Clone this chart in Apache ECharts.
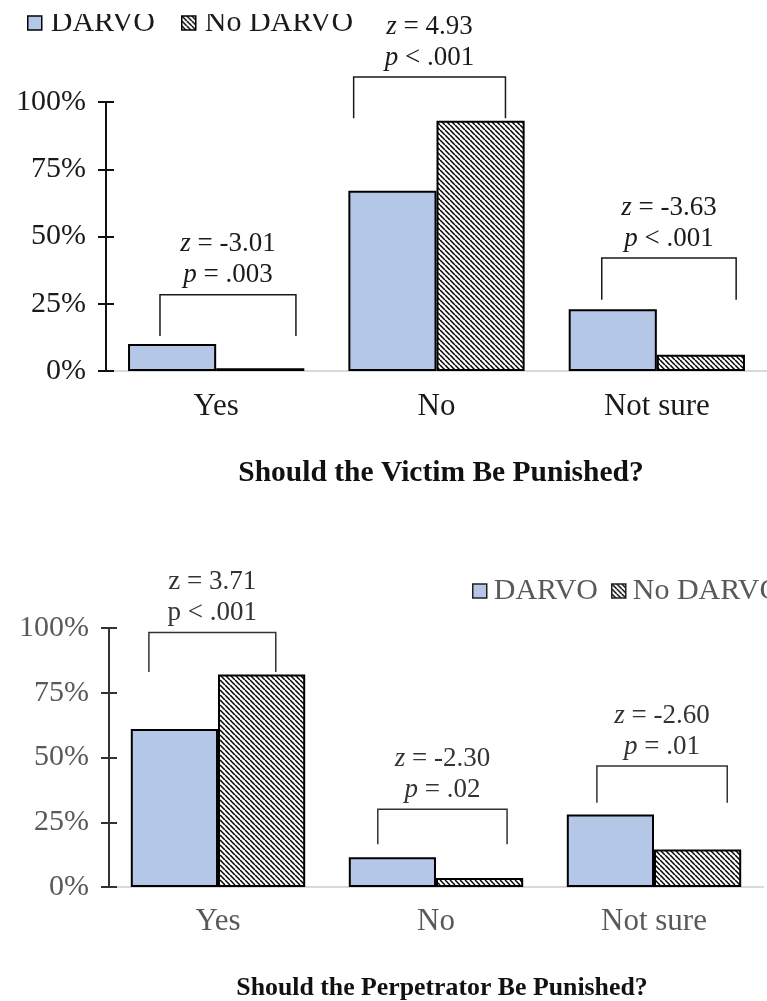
<!DOCTYPE html>
<html>
<head>
<meta charset="utf-8">
<script src="https://cdn.jsdelivr.net/npm/echarts@6/dist/echarts.min.js"></script>
<style>
  html, body { margin: 0; padding: 0; background: #fff; }
  #chart { width: 767px; height: 1001px; }
</style>
</head>
<body>
<div id="chart"></div>
<script>
// ---- data ----
const categories = ['Yes', 'No', 'Not sure'];
const seriesNames = ['DARVO', 'No DARVO'];
const yTickValues = [0, 25, 50, 75, 100];

// Should the Victim Be Punished? (% of respondents)
const victimDarvo = [10, 67, 23];
const victimNoDarvo = [1, 93, 6];
// significance brackets: bracket top level and leg foot level (%)
const victimBracketTop = [28.3, 109.3, 42];
const victimBracketFoot = [13, 94, 26.5];
const victimZ = ['-3.01', '4.93', '-3.63'];
const victimP = ['= .003', '< .001', '< .001'];

// Should the Perpetrator Be Punished? (% of respondents)
const perpDarvo = [61, 11.5, 28];
const perpNoDarvo = [82, 3.5, 14.5];
const perpBracketTop = [98.3, 30, 46.7];
const perpBracketFoot = [83, 16.5, 32.5];
const perpZ = ['3.71', '-2.30', '-2.60'];
const perpP = ['< .001', '= .02', '= .01'];
const perpItalic = [false, true, true];

// ---- styling ----
const FONT = '"Liberation Serif", "Times New Roman", serif';
const BLUE = '#B4C7E7';
const DARK = '#1a1a1a';
const GREY = '#595959';

// diagonal hatch fill for the "No DARVO" bars
function hatchPattern() {
  const s = 5;
  const c = document.createElement('canvas');
  c.width = s; c.height = s;
  const g = c.getContext('2d');
  g.fillStyle = '#fff';
  g.fillRect(0, 0, s, s);
  g.strokeStyle = '#000';
  g.lineWidth = 1.5;
  for (const x0 of [-s, 0, s]) {
    g.beginPath();
    g.moveTo(x0, 0);
    g.lineTo(x0 + s, s);
    g.stroke();
  }
  return { image: c, repeat: 'repeat' };
}
const HATCH = hatchPattern();

// bracket leg positions inside each category band (fraction of band width)
const victimSpans = [[-0.255, 0.362], [-0.376, 0.313], [-0.25, 0.36]];
const perpSpans = [[-0.317, 0.265], [-0.267, 0.326], [-0.262, 0.336]];

function statText(z, p, italic) {
  if (italic) return '{i|z} = ' + z + '\n{i|p} ' + p;
  return 'z = ' + z + '\np ' + p;
}

function bracketSeries(gridIdx, tops, feet, spans, zs, ps, italics, color) {
  return {
    type: 'custom',
    xAxisIndex: gridIdx,
    yAxisIndex: gridIdx * 2,
    clip: false,
    silent: true,
    z: 5,
    data: tops.map((t, i) => [i, t, feet[i]]),
    encode: { x: 0, y: 1 },
    renderItem(params, api) {
      const i = api.value(0);
      const top = api.coord([i, api.value(1)]);
      const foot = api.coord([i, api.value(2)]);
      const band = api.size([1, 0])[0];
      const xl = top[0] + spans[i][0] * band;
      const xr = top[0] + spans[i][1] * band;
      return {
        type: 'group',
        children: [
          {
            type: 'polyline',
            shape: { points: [[xl, foot[1]], [xl, top[1]], [xr, top[1]], [xr, foot[1]]] },
            style: { stroke: color, lineWidth: 1.5, fill: null }
          },
          {
            type: 'text',
            x: (xl + xr) / 2,
            y: top[1] - 4,
            style: {
              text: statText(zs[i], ps[i], italics[i]),
              rich: { i: { fontStyle: 'italic', fontFamily: FONT, fontSize: 27, fill: color } },
              fontFamily: FONT,
              fontSize: 27,
              lineHeight: 31,
              fill: color,
              align: 'center',
              verticalAlign: 'bottom'
            }
          }
        ]
      };
    }
  };
}

function xAxisFor(gridIdx, color, margin) {
  return {
    type: 'category',
    gridIndex: gridIdx,
    data: categories,
    axisLine: { show: true, lineStyle: { color: '#d9d9d9', width: 2 } },
    axisTick: { show: false },
    axisLabel: { fontFamily: FONT, fontSize: 31, color: color, margin: margin }
  };
}

function yAxesFor(gridIdx, color, lineColor) {
  const base = {
    type: 'value',
    gridIndex: gridIdx,
    position: 'left',
    min: yTickValues[0],
    max: yTickValues[yTickValues.length - 1],
    interval: 25,
    splitLine: { show: false }
  };
  return [
    Object.assign({}, base, {
      axisLine: { show: true, lineStyle: { color: lineColor, width: 2 } },
      axisTick: { show: true, length: 8, lineStyle: { color: lineColor, width: 2 } },
      axisLabel: { fontFamily: FONT, fontSize: 30, color: color, margin: 20, formatter: '{value}%' }
    }),
    // inner half of the cross-shaped ticks
    Object.assign({}, base, {
      axisLine: { show: false },
      axisTick: { show: true, inside: true, length: 8, lineStyle: { color: lineColor, width: 2 } },
      axisLabel: { show: false }
    })
  ];
}

function barSeries(gridIdx, darvo, noDarvo) {
  const common = {
    type: 'bar',
    xAxisIndex: gridIdx,
    yAxisIndex: gridIdx * 2,
    barGap: '0%',
    barCategoryGap: '20%',
    z: 3
  };
  return [
    Object.assign({}, common, {
      name: seriesNames[0],
      data: darvo,
      itemStyle: { color: BLUE, borderColor: '#000', borderWidth: 2 }
    }),
    Object.assign({}, common, {
      name: seriesNames[1],
      data: noDarvo,
      itemStyle: { color: HATCH, borderColor: '#000', borderWidth: 2 }
    })
  ];
}

const chart = echarts.init(document.getElementById('chart'), null, { renderer: 'canvas' });

chart.setOption({
  backgroundColor: '#fff',
  animation: false,
  grid: [
    { left: 106, top: 102, width: 670.5, height: 269 },
    { left: 109, top: 628, width: 654, height: 259 }
  ],
  legend: [
    {
      data: seriesNames, left: 22, top: 3, width: 500, orient: 'horizontal', icon: 'rect',
      itemWidth: 14, itemHeight: 14, itemGap: 26,
      itemStyle: { borderColor: '#000', borderWidth: 1.5 },
      textStyle: { fontFamily: FONT, fontSize: 30, color: DARK, padding: [0, 0, 0, 4] },
      selectedMode: false
    },
    {
      data: seriesNames, left: 467, top: 571, width: 500, orient: 'horizontal', icon: 'rect',
      itemWidth: 14, itemHeight: 14, itemGap: 13,
      itemStyle: { borderColor: '#222', borderWidth: 1.5 },
      textStyle: { fontFamily: FONT, fontSize: 30, color: GREY, padding: [0, 0, 0, 2] },
      selectedMode: false
    }
  ],
  title: [
    {
      text: 'Should the Victim Be Punished?',
      left: 436, top: 453, textAlign: 'center',
      textStyle: { fontFamily: FONT, fontSize: 29.5, fontWeight: 'bold', color: '#111' }
    },
    {
      text: 'Should the Perpetrator Be Punished?',
      left: 437, top: 970, textAlign: 'center',
      textStyle: { fontFamily: FONT, fontSize: 25.8, fontWeight: 'bold', color: '#111' }
    }
  ],
  xAxis: [xAxisFor(0, DARK, 20), xAxisFor(1, GREY, 19)],
  yAxis: yAxesFor(0, DARK, '#111').concat(yAxesFor(1, GREY, '#333')),
  series: [].concat(
    barSeries(0, victimDarvo, victimNoDarvo),
    barSeries(1, perpDarvo, perpNoDarvo),
    [
      bracketSeries(0, victimBracketTop, victimBracketFoot, victimSpans, victimZ, victimP, [true, true, true], DARK),
      bracketSeries(1, perpBracketTop, perpBracketFoot, perpSpans, perpZ, perpP, perpItalic, '#333')
    ]
  ),
  graphic: [
    { type: 'rect', left: 0, top: 0, shape: { width: 767, height: 14 }, style: { fill: '#fff' }, z: 100 }
  ]
});
</script>
</body>
</html>
